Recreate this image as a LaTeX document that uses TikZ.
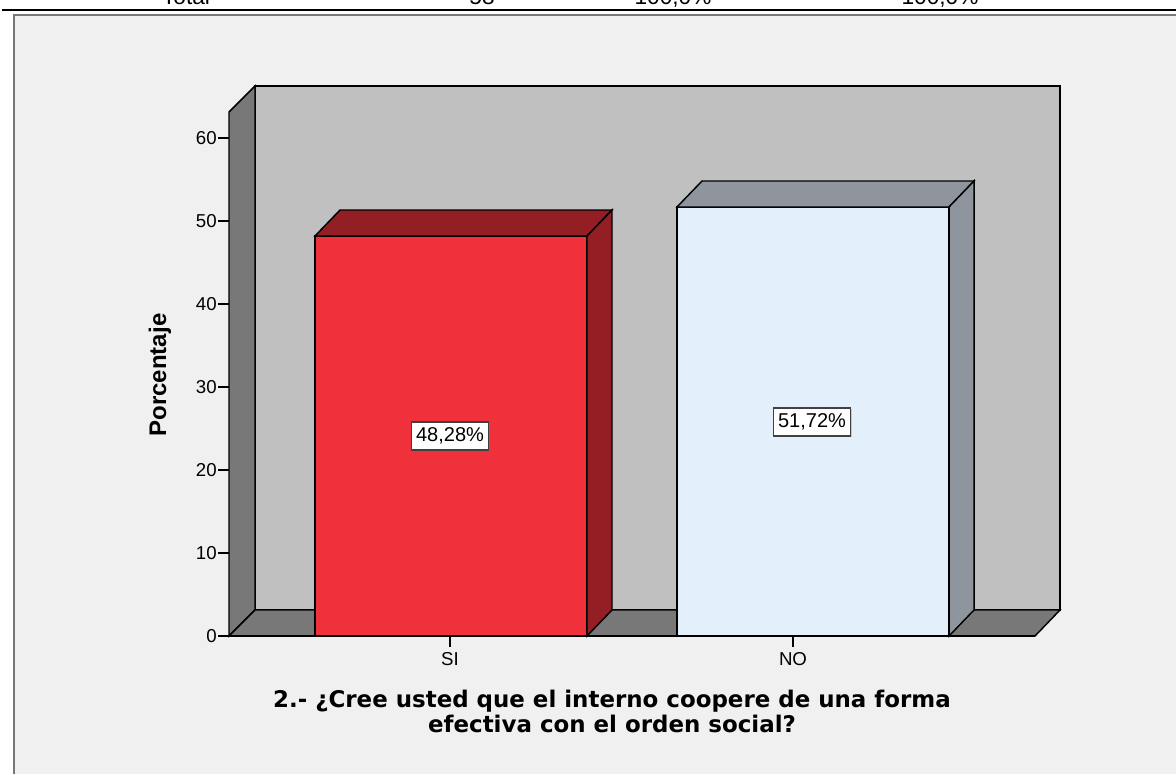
\documentclass[tikz,border=0pt]{standalone}
\usepackage{fontspec}
\setmainfont{Liberation Sans}
\newfontfamily\titlefont{DejaVu Sans}
\usetikzlibrary{shadows}
\definecolor{panelbg}{RGB}{240,240,240}
\definecolor{panelline}{RGB}{120,120,120}
\definecolor{backwall}{RGB}{192,192,192}
\definecolor{sidewall}{RGB}{120,120,120}
\definecolor{sifront}{RGB}{240,48,58}
\definecolor{siside}{RGB}{147,31,36}
\definecolor{nofront}{RGB}{227,239,251}
\definecolor{noside}{RGB}{142,149,157}

% bar: left x, right x, top y, front colour, side colour
\newcommand{\drawbar}[5]{%
  \filldraw[face, fill=#4] (#1,#3) rectangle (#2,636);
  \filldraw[face, fill=#5] (#1,#3) -- ++(25,-26) -- (#2+25,#3-26) -- (#2,#3) -- cycle;
  \filldraw[face, fill=#5] (#2,#3) -- (#2+25,#3-26) -- (#2+25,610) -- (#2,636) -- cycle;
}

\begin{document}
\begin{tikzpicture}[
        x=0.75pt, y=-0.75pt,
        face/.style={draw=black, line width=1.1pt, line join=miter},
        ticklabel/.style={anchor=east, font=\fontsize{14}{16}\selectfont, inner sep=0pt},
        catlabel/.style={font=\fontsize{14}{16}\selectfont, inner sep=0pt},
        headtext/.style={anchor=base, font=\fontsize{17}{19}\selectfont, inner sep=0pt},
        pctbox/.style={draw=black!75, fill=white, line width=0.9pt, font=\fontsize{15}{17}\selectfont, inner xsep=3.5pt, minimum height=21pt, drop shadow={shadow xshift=0.8pt, shadow yshift=-0.8pt, opacity=0.35}},
        titletext/.style={anchor=base, font=\titlefont\bfseries\fontsize{17.2}{20}\selectfont, inner sep=0pt}
    ]
    \useasboundingbox (0,0) rectangle (1176,774);
    \fill[white] (0,0) rectangle (1176,774);

    % table rest above the chart
    \node[headtext] (htotal) at (186,5) {Total};
    \node[headtext] (hcount) at (482,5) {58};
    \node[headtext] (hpct) at (673,5) {100,0\%};
    \node[headtext] (hcum) at (940,5) {100,0\%};
    \draw[black, line width=0.9pt] (2,10) -- (1176,10);

    % chart panel
    \fill[panelbg] (14,15) rectangle (1176,774);
    \draw[panelline, line width=1.5pt] (14,774) -- (14,15) -- (1176,15);

    % walls and floor
    \filldraw[face, fill=backwall] (255,86) rectangle (1060,610);
    \filldraw[face, fill=sidewall] (229,112) -- (255,86) -- (255,610) -- (229,636) -- cycle;
    \filldraw[face, fill=sidewall] (229,636) -- (255,610) -- (1060,610) -- (1035,636) -- cycle;

    % y axis ticks
    \foreach \v in {0,10,...,60} {
        \draw[black, line width=1.1pt] (218,{636-8.3*\v}) -- (229,{636-8.3*\v});
        \node[ticklabel] (tick\v) at (217,{636-8.3*\v}) {\v};
    }

    % bars
    \drawbar{315}{587}{236}{sifront}{siside}
    \drawbar{677}{949}{207}{nofront}{noside}

    % x axis
    \draw[black, line width=1.1pt] (229,636) -- (1035,636);
    \draw[black, line width=1.1pt] (450,636) -- (450,647);
    \draw[black, line width=1.1pt] (793,636) -- (793,647);
    \node[catlabel] (si) at (450,659) {SI};
    \node[catlabel] (no) at (793,659) {NO};

    % value labels
    \node[pctbox] (pctsi) at (450,436) {48,28\%};
    \node[pctbox] (pctno) at (812,422) {51,72\%};

    % axis titles
    \node[rotate=90, font=\bfseries\fontsize{18}{20}\selectfont, inner sep=0pt] (ytitle) at (160,375) {Porcentaje};
    \node[titletext] (title1) at (612,707) {2.- ¿Cree usted que el interno coopere de una forma};
    \node[titletext] (title2) at (612,732) {efectiva con el orden social?};
\end{tikzpicture}
\end{document}
